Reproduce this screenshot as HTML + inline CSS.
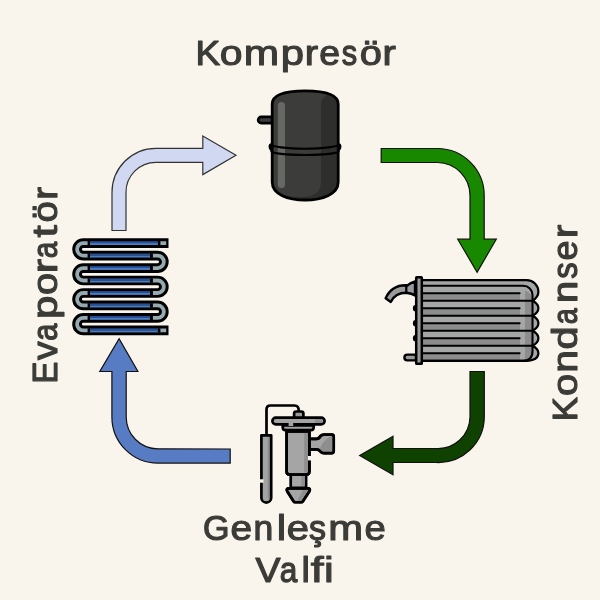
<!DOCTYPE html>
<html><head><meta charset="utf-8">
<style>
html,body{margin:0;padding:0;background:#faf5ec;}
svg{display:block;will-change:transform;}
text{font-family:"Liberation Sans",sans-serif;font-weight:normal;fill:#3b3b38;stroke:#3b3b38;stroke-width:1.2;stroke-linejoin:round;font-size:34.5px;}
</style></head><body>
<svg width="600" height="600" viewBox="0 0 600 600">
<rect width="600" height="600" fill="#faf5ec"/>

<!-- labels -->
<g><text transform="translate(195.49 65.4) scale(1.076 1)" vector-effect="non-scaling-stroke">K</text><text transform="translate(219.74 65.4) scale(1.184 1)" vector-effect="non-scaling-stroke">o</text><text transform="translate(243.77 65.4) scale(1.231 1)" vector-effect="non-scaling-stroke">m</text><text transform="translate(280.73 65.4) scale(1.213 1)" vector-effect="non-scaling-stroke">p</text><text transform="translate(304.63 65.4) scale(1.163 1)" vector-effect="non-scaling-stroke">r</text><text transform="translate(319.37 65.4) scale(1.086 1)" vector-effect="non-scaling-stroke">e</text><text transform="translate(341.81 65.4) scale(0.893 1)" vector-effect="non-scaling-stroke">s</text><text transform="translate(359.79 65.4) scale(1.153 1)" vector-effect="non-scaling-stroke">ö</text><text transform="translate(382.53 65.4) scale(1.163 1)" vector-effect="non-scaling-stroke">r</text></g>
<g><text transform="translate(202.92 539.5) scale(0.987 1)" vector-effect="non-scaling-stroke">G</text><text transform="translate(230.41 539.5) scale(1.130 1)" vector-effect="non-scaling-stroke">e</text><text transform="translate(253.54 539.5) scale(1.027 1)" vector-effect="non-scaling-stroke">n</text><text transform="translate(276.78 539.5) scale(1.226 1)" vector-effect="non-scaling-stroke">l</text><text transform="translate(286.86 539.5) scale(1.160 1)" vector-effect="non-scaling-stroke">e</text><text transform="translate(309.11 539.5) scale(0.987 1)" vector-effect="non-scaling-stroke">ş</text><text transform="translate(328.32 539.5) scale(1.211 1)" vector-effect="non-scaling-stroke">m</text><text transform="translate(364.43 539.5) scale(1.111 1)" vector-effect="non-scaling-stroke">e</text></g>
<g><text transform="translate(255.38 581.5) scale(1.088 1)" vector-effect="non-scaling-stroke">V</text><text transform="translate(279.83 581.5) scale(0.915 1)" vector-effect="non-scaling-stroke">a</text><text transform="translate(301.38 581.5) scale(1.097 1)" vector-effect="non-scaling-stroke">l</text><text transform="translate(310.73 581.5) scale(1.341 1)" vector-effect="non-scaling-stroke">f</text><text transform="translate(323.94 581.5) scale(1.267 1)" vector-effect="non-scaling-stroke">i</text></g>
<g transform="translate(57.0 0) rotate(-90)"><text transform="translate(-383.57 0) scale(0.952 1)" vector-effect="non-scaling-stroke">E</text><text transform="translate(-360.01 0) scale(1.076 1)" vector-effect="non-scaling-stroke">v</text><text transform="translate(-340.74 0) scale(0.893 1)" vector-effect="non-scaling-stroke">a</text><text transform="translate(-319.07 0) scale(1.213 1)" vector-effect="non-scaling-stroke">p</text><text transform="translate(-295.01 0) scale(1.153 1)" vector-effect="non-scaling-stroke">o</text><text transform="translate(-273.29 0) scale(1.256 1)" vector-effect="non-scaling-stroke">r</text><text transform="translate(-258.20 0) scale(0.864 1)" vector-effect="non-scaling-stroke">a</text><text transform="translate(-237.54 0) scale(1.284 1)" vector-effect="non-scaling-stroke">t</text><text transform="translate(-222.45 0) scale(1.110 1)" vector-effect="non-scaling-stroke">ö</text><text transform="translate(-199.77 0) scale(1.116 1)" vector-effect="non-scaling-stroke">r</text></g>
<g transform="translate(577.0 0) rotate(-90)"><text transform="translate(-421.34 0) scale(1.051 1)" vector-effect="non-scaling-stroke">K</text><text transform="translate(-396.01 0) scale(1.153 1)" vector-effect="non-scaling-stroke">o</text><text transform="translate(-372.63 0) scale(1.185 1)" vector-effect="non-scaling-stroke">n</text><text transform="translate(-349.59 0) scale(1.205 1)" vector-effect="non-scaling-stroke">d</text><text transform="translate(-324.15 0) scale(0.836 1)" vector-effect="non-scaling-stroke">a</text><text transform="translate(-303.05 0) scale(1.151 1)" vector-effect="non-scaling-stroke">n</text><text transform="translate(-278.85 0) scale(0.953 1)" vector-effect="non-scaling-stroke">s</text><text transform="translate(-260.46 0) scale(1.037 1)" vector-effect="non-scaling-stroke">e</text><text transform="translate(-238.05 0) scale(1.151 1)" vector-effect="non-scaling-stroke">r</text></g>

<!-- arrows -->
<g stroke-linejoin="miter" stroke-width="1.2">
<!-- light blue top-left -->
<path fill="#d0d9f1" stroke="#333" d="M112 230.5 V192.5 A44 44 0 0 1 156 148.3 H202.8 V136 L236 155.3 L202.8 174.6 V162.3 H156 A30 30 0 0 0 126 192.5 V230.5 Z"/>
<!-- green top-right -->
<path fill="#188800" stroke="#111" d="M381.2 148.5 H437.5 A47 47 0 0 1 484.2 195.5 V239.2 H496.3 L477.1 272.2 L457.7 239.2 H470 V195.5 A33 33 0 0 0 437.5 162.5 H381.2 Z"/>
<!-- dark green bottom-right -->
<path fill="#0f4200" stroke="#111" d="M470 371.5 H484.3 V417 A46 46 0 0 1 436 462.5 H393 V474.7 L359.7 455.5 L393 436.3 V448.5 H436 A32 32 0 0 0 470 417 Z"/>
<!-- blue bottom-left -->
<path fill="#577cc3" stroke="#111" d="M230.2 449 V463.1 H158 A46.1 46.1 0 0 1 111.9 417 V371.5 H99.8 L119.1 338.8 L137.9 371.5 H126.2 V417 A31.8 31.8 0 0 0 158 448.8 Z"/>
</g>

<!-- compressor -->
<defs><clipPath id="cb"><path d="M272.2 104 C272.2 93 290 90.8 305.2 90.8 C320 90.8 338.2 93 338.2 104 V182 C338.2 194.5 322 200 305.2 200 C288 200 272.2 194.5 272.2 182 Z"/></clipPath></defs>
<g>
<rect x="258.1" y="116.9" width="16" height="6.2" rx="3.1" fill="#3c3c3a" stroke="#000" stroke-width="2.6"/>
<path d="M272.2 104 C272.2 93 290 90.8 305.2 90.8 C320 90.8 338.2 93 338.2 104 V182 C338.2 194.5 322 200 305.2 200 C288 200 272.2 194.5 272.2 182 Z" fill="#3c3c3a"/>
<g clip-path="url(#cb)" fill="#2e2f2c">
<path d="M321 300 V104 Q321 98.5 328.5 94 L370 60 V300 Z"/>
<path d="M260 300 V186 Q280 197.5 303 197 Q321 196 321 182 L370 182 V300 Z"/>
</g>
<rect x="277.8" y="102" width="7.2" height="86" rx="3.6" fill="#666963"/>
<path d="M272.2 104 C272.2 93 290 90.8 305.2 90.8 C320 90.8 338.2 93 338.2 104 V182 C338.2 194.5 322 200 305.2 200 C288 200 272.2 194.5 272.2 182 Z" fill="none" stroke="#000" stroke-width="2.8"/>
<path d="M271.2 144.3 A33.8 4.4 0 0 0 338.8 144.3 M271.2 151 A33.8 4 0 0 0 338.8 151" fill="none" stroke="#000" stroke-width="2.1"/>
<path d="M271.6 143 Q268.2 143.5 268.6 147 Q269 150.5 271.6 151.2 Z M338.4 143 Q341.8 143.5 341.4 147 Q341 150.5 338.4 151.2 Z" fill="#000"/>
</g>

<!-- evaporator -->
<g fill="none">
<path id="serp" d="M168.5 243.1 H83.3 A6.235 6.235 0 0 0 83.3 255.57 H157.6 A6.235 6.235 0 0 1 157.6 268.04 H83.3 A6.235 6.235 0 0 0 83.3 280.51 H157.6 A6.235 6.235 0 0 1 157.6 292.98 H83.3 A6.235 6.235 0 0 0 83.3 305.45 H157.6 A6.235 6.235 0 0 1 157.6 317.92 H83.3 A6.235 6.235 0 0 0 83.3 330.39 H168.5" stroke="#000" stroke-width="9.7"/>
<path d="M166.2 243.1 H83.3 A6.235 6.235 0 0 0 83.3 255.57 H157.6 A6.235 6.235 0 0 1 157.6 268.04 H83.3 A6.235 6.235 0 0 0 83.3 280.51 H157.6 A6.235 6.235 0 0 1 157.6 292.98 H83.3 A6.235 6.235 0 0 0 83.3 305.45 H157.6 A6.235 6.235 0 0 1 157.6 317.92 H83.3 A6.235 6.235 0 0 0 83.3 330.39 H166.2" stroke="#95a9b0" stroke-width="3.8"/>
</g>
<g fill="#000">
<rect x="87.6" y="240.9" width="72.8" height="4.4"/>
<rect x="87.6" y="328.2" width="72.8" height="4.4"/>
<rect x="87.6" y="253.4" width="65.3" height="4.4"/>
<rect x="87.6" y="265.8" width="65.3" height="4.4"/>
<rect x="87.6" y="278.3" width="65.3" height="4.4"/>
<rect x="87.6" y="290.8" width="65.3" height="4.4"/>
<rect x="87.6" y="303.2" width="65.3" height="4.4"/>
<rect x="87.6" y="315.7" width="65.3" height="4.4"/>
</g>
<g>
<rect x="90" y="241.2" width="67.9" height="1.9" fill="#27509a"/>
<rect x="90" y="243.10" width="67.9" height="1.9" fill="#4b7dc3"/>
<rect x="90" y="328.5" width="67.9" height="1.9" fill="#27509a"/>
<rect x="90" y="330.40" width="67.9" height="1.9" fill="#4b7dc3"/>
<rect x="90" y="253.67" width="60" height="1.9" fill="#27509a"/>
<rect x="90" y="255.57" width="60" height="1.9" fill="#4b7dc3"/>
<rect x="90" y="266.14" width="60" height="1.9" fill="#27509a"/>
<rect x="90" y="268.04" width="60" height="1.9" fill="#4b7dc3"/>
<rect x="90" y="278.61" width="60" height="1.9" fill="#27509a"/>
<rect x="90" y="280.51" width="60" height="1.9" fill="#4b7dc3"/>
<rect x="90" y="291.08" width="60" height="1.9" fill="#27509a"/>
<rect x="90" y="292.98" width="60" height="1.9" fill="#4b7dc3"/>
<rect x="90" y="303.55" width="60" height="1.9" fill="#27509a"/>
<rect x="90" y="305.45" width="60" height="1.9" fill="#4b7dc3"/>
<rect x="90" y="316.02" width="60" height="1.9" fill="#27509a"/>
<rect x="90" y="317.92" width="60" height="1.9" fill="#4b7dc3"/>
</g>


<!-- condenser -->
<g id="cond">
<!-- block fill -->
<path d="M423 280.15 H526.7 A11.7 11.7 0 0 1 538.4 291.8 Q538.4 297 533 300.8 Q538.4 304 538.4 308.3 Q538.4 312.6 533 315.8 Q538.4 319 538.4 323.3 Q538.4 327.6 533 330.8 Q538.4 334 538.4 338.3 Q538.4 342.6 533 345.8 Q538.4 349 538.4 353.3 Q538 360.8 526 360.8 H423 Z" fill="#a5a6a6"/>
<!-- dark stripes -->
<g fill="#8c8c8c">
<rect x="423" y="293.3" width="97" height="7.5"/>
<rect x="423" y="308.3" width="97" height="7.5"/>
<rect x="423" y="323.3" width="97" height="7.5"/>
<rect x="423" y="338.3" width="97" height="7.5"/>
<rect x="423" y="353.3" width="97" height="7.5"/>
<path d="M525 291 Q531.7 292 531.7 300 V352 Q531.7 358 526 360 L525 360 Z"/>
</g>
<g stroke="#000" stroke-width="2.1" fill="none" stroke-linecap="round">
<path d="M519.6 293.3 H423 M519.6 308.3 H423 M519.6 323.3 H423 M519.6 338.3 H423 M519.6 353.3 H423"/>
<path d="M532.5 300.8 H423 M532.5 315.8 H423 M532.5 330.8 H423 M532.5 345.8 H423"/>
<path d="M423 285.8 H523.3 A9.2 9.2 0 0 1 532.5 295 V351 Q532.5 360.8 522.7 360.8 H423"/>
</g>
<path d="M423 280.15 H526.7 A11.7 11.7 0 0 1 538.4 291.8 Q538.4 297 532.5 300.8 Q538.4 304 538.4 308.3 Q538.4 312.6 532.5 315.8 Q538.4 319 538.4 323.3 Q538.4 327.6 532.5 330.8 Q538.4 334 538.4 338.3 Q538.4 342.6 532.5 345.8 Q538.4 349 538.4 353.3 Q538 360.8 526 360.8 H423" fill="none" stroke="#000" stroke-width="2.2" stroke-linejoin="round"/>
<!-- bumps on bar left -->
<g fill="#000">
<ellipse cx="415.5" cy="308.3" rx="2.6" ry="3.2"/>
<ellipse cx="415.5" cy="323.3" rx="2.6" ry="3.2"/>
<ellipse cx="415.5" cy="338.3" rx="2.6" ry="3.2"/>
</g>
<!-- bottom stub -->
<path d="M416 354.6 H407.3 A2.9 2.9 0 0 0 407.3 360.4 H416 Z" fill="#9a9a9a" stroke="#000" stroke-width="2.4" stroke-linejoin="round"/>
<!-- inlet pipe -->
<path d="M406.3 285.3 C397 285 389.5 290 385.6 298.2 L390.8 301.9 C393.5 296.5 399 292.8 406.3 292.8 Q412 293.5 415 295.5 V281.5 Q411 282.5 406.3 286.2 Z" fill="#9a9a9a" stroke="#000" stroke-width="2.4" stroke-linejoin="round"/>
<path d="M406.3 286.2 V292.5" stroke="#000" stroke-width="2.2"/>
<!-- bar -->
<rect x="416.2" y="277.2" width="5.6" height="86.6" rx="0.6" fill="#9a9a9a" stroke="#000" stroke-width="2.5"/>
</g>

<!-- valve -->
<g stroke="#000" stroke-width="2.7" stroke-linejoin="round">
<path d="M266.5 434 V409.5 Q266.5 405.5 270.5 405.5 H294.5 Q298.8 405.5 298.8 411" fill="none"/>
<!-- bulb -->
<path d="M261.4 435.3 H271.2 V497.7 A4.9 4.9 0 0 1 261.4 497.7 Z" fill="#a3a3a3" stroke="none"/>
<rect x="267.6" y="436.5" width="3" height="62" fill="#8f8f8f" stroke="none"/>
<path d="M261.4 435.3 H271.2 V497.7 A4.9 4.9 0 0 1 261.4 497.7 Z" fill="none"/>
<rect x="259" y="479.3" width="4.5" height="3.4" fill="#faf5ec" stroke="none"/>
<!-- cap -->
<path d="M294.1 418 V413.5 Q294.1 411.5 296.1 411.5 H301.4 Q303.4 411.5 303.4 413.5 V418" fill="#9a9a9a"/>
<!-- side port -->
<path d="M309 438.8 H316.5 Q319 438.8 320.5 436 Q321.8 434.6 324 434.6 H331.6 Q333.7 434.6 333.7 436.7 V451.1 Q333.7 453.2 331.6 453.2 H324 Q321.8 453.2 320.5 451.6 Q319 449.3 316.5 449.3 H309 Z" fill="#a5a5a5"/>
<path d="M331 436 Q322 441 319.5 450 Q321.8 453.2 324 453.2 H331.6 Q333.7 453.2 333.7 451.1 V436.7 Z" fill="#8e8e8e" stroke="none"/>
<path d="M309 438.8 H316.5 Q319 438.8 320.5 436 Q321.8 434.6 324 434.6 H331.6 Q333.7 434.6 333.7 436.7 V451.1 Q333.7 453.2 331.6 453.2 H324 Q321.8 453.2 320.5 451.6 Q319 449.3 316.5 449.3 H309" fill="none"/>
<!-- neck -->
<path d="M290.7 474.5 H306.1 V487.8 H290.7 Z" fill="#a5a5a5"/>
<rect x="301.4" y="475.4" width="3.4" height="10.5" fill="#8e8e8e" stroke="none"/>
<!-- cone -->
<path d="M289 488.45 H307.8 Q310.9 488.45 309.4 491.2 L302.9 501.3 Q302.3 502.25 301.2 502.25 H295.2 Q294.1 502.25 293.5 501.3 L287.2 491.2 Q285.8 488.45 289 488.45 Z" fill="#a5a5a5"/>
<path d="M303 489.8 H308.5 L301.6 501 H297 Z" fill="#8e8e8e" stroke="none"/>
<path d="M289 488.45 H307.8 Q310.9 488.45 309.4 491.2 L302.9 501.3 Q302.3 502.25 301.2 502.25 H295.2 Q294.1 502.25 293.5 501.3 L287.2 491.2 Q285.8 488.45 289 488.45 Z" fill="none"/>
<!-- body -->
<path d="M286.6 431.5 H309.4 V471.4 Q309.4 474.5 306.3 474.5 H289.7 Q286.6 474.5 286.6 471.4 Z" fill="#a5a5a5"/>
<rect x="304.2" y="432.8" width="3.9" height="39.7" fill="#8e8e8e" stroke="none"/>
<path d="M286.6 431.5 H309.4 V471.4 Q309.4 474.5 306.3 474.5 H289.7 Q286.6 474.5 286.6 471.4 Z" fill="none"/>
<rect x="308" y="456" width="3" height="4.4" fill="#faf5ec" stroke="none"/>
<!-- lower flange -->
<path d="M282.7 425.5 H313.7 V427.3 Q313.7 430.2 310.8 430.2 H285.6 Q282.7 430.2 282.7 427.3 Z" fill="#a3a3a3"/>
<!-- top flange -->
<rect x="272.4" y="417.7" width="52.2" height="6.7" rx="3.35" fill="#a3a3a3"/>
<rect x="315" y="419" width="7" height="4" fill="#8e8e8e" stroke="none"/>
<rect x="288.6" y="422.6" width="4.6" height="3.4" fill="#a3a3a3" stroke="none"/>
</g>

</svg>
</body></html>
